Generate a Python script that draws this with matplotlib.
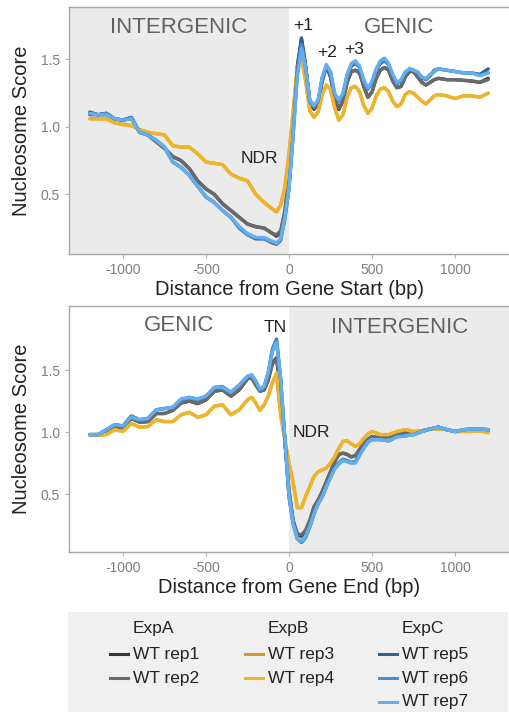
import matplotlib
matplotlib.use("Agg")
import matplotlib.pyplot as plt
from matplotlib.lines import Line2D
from matplotlib.patches import Rectangle

plt.rcParams['font.family'] = ['Liberation Sans', 'DejaVu Sans']
plt.rcParams['axes.unicode_minus'] = False

# ---- data: distance from gene start (top panel) ----
x_start = [-1200, -1150, -1100, -1050, -1000, -950, -900, -850, -800, -750, -700, -650,
           -600, -550, -500, -450, -400, -350, -300, -250, -200, -150, -100,
           -75, -50, -25, 0, 25, 50, 75, 100, 125, 150, 175, 200, 225, 250, 275,
           300, 325, 350, 375, 400, 425, 450, 475, 500, 525, 550, 575, 600, 625,
           650, 675, 700, 725, 750, 775, 800, 825, 850, 875, 900,
           950, 1000, 1050, 1100, 1150, 1200]

start_rep1 = [1.10, 1.09, 1.10, 1.06, 1.05, 1.07, 0.96, 0.94, 0.89, 0.84, 0.78, 0.75,
              0.69, 0.60, 0.54, 0.50, 0.43, 0.38, 0.33, 0.28, 0.26, 0.25, 0.21,
              0.19, 0.22, 0.37, 0.62, 1.00, 1.45, 1.65, 1.45, 1.19, 1.13, 1.17, 1.34, 1.45, 1.37, 1.21,
              1.13, 1.19, 1.33, 1.41, 1.42, 1.40, 1.30, 1.22, 1.26, 1.36, 1.42, 1.44, 1.42, 1.34,
              1.29, 1.30, 1.37, 1.41, 1.41, 1.37, 1.33, 1.31, 1.33, 1.35, 1.36,
              1.35, 1.35, 1.345, 1.34, 1.33, 1.36]
start_rep2 = [1.09, 1.09, 1.09, 1.06, 1.05, 1.06, 0.96, 0.94, 0.89, 0.84, 0.78, 0.75,
              0.69, 0.60, 0.54, 0.50, 0.43, 0.38, 0.33, 0.28, 0.26, 0.25, 0.21,
              0.20, 0.23, 0.38, 0.63, 1.00, 1.44, 1.63, 1.44, 1.19, 1.14, 1.17, 1.34, 1.45, 1.37, 1.21,
              1.14, 1.19, 1.33, 1.41, 1.42, 1.40, 1.30, 1.22, 1.26, 1.36, 1.42, 1.44, 1.42, 1.34,
              1.29, 1.30, 1.37, 1.41, 1.41, 1.37, 1.33, 1.31, 1.33, 1.35, 1.36,
              1.35, 1.35, 1.345, 1.34, 1.33, 1.35]
start_rep3 = [1.06, 1.06, 1.06, 1.03, 1.02, 1.01, 0.98, 0.96, 0.95, 0.94, 0.86, 0.85,
              0.85, 0.80, 0.74, 0.73, 0.72, 0.65, 0.62, 0.60, 0.50, 0.44, 0.39,
              0.37, 0.42, 0.55, 0.80, 1.12, 1.44, 1.51, 1.34, 1.12, 1.07, 1.11, 1.24, 1.31, 1.28, 1.14,
              1.05, 1.09, 1.22, 1.29, 1.30, 1.26, 1.16, 1.10, 1.14, 1.23, 1.28, 1.29, 1.26, 1.19,
              1.15, 1.17, 1.24, 1.26, 1.25, 1.22, 1.19, 1.17, 1.20, 1.23, 1.24,
              1.23, 1.21, 1.23, 1.23, 1.22, 1.25]
start_rep4 = [1.06, 1.06, 1.06, 1.03, 1.015, 1.01, 0.98, 0.96, 0.95, 0.94, 0.86, 0.85,
              0.85, 0.80, 0.74, 0.73, 0.72, 0.65, 0.62, 0.60, 0.50, 0.44, 0.39,
              0.375, 0.42, 0.55, 0.80, 1.12, 1.44, 1.51, 1.34, 1.12, 1.07, 1.11, 1.24, 1.31, 1.28, 1.14,
              1.05, 1.09, 1.22, 1.29, 1.30, 1.26, 1.16, 1.10, 1.14, 1.23, 1.28, 1.29, 1.26, 1.19,
              1.15, 1.17, 1.24, 1.26, 1.25, 1.22, 1.19, 1.17, 1.20, 1.23, 1.24,
              1.23, 1.21, 1.23, 1.23, 1.22, 1.25]
start_rep5 = [1.11, 1.09, 1.10, 1.06, 1.05, 1.07, 0.96, 0.94, 0.90, 0.85, 0.74, 0.70,
              0.64, 0.56, 0.48, 0.44, 0.38, 0.33, 0.25, 0.20, 0.17, 0.17, 0.14,
              0.13, 0.16, 0.32, 0.54, 0.95, 1.41, 1.66, 1.45, 1.19, 1.15, 1.19, 1.36, 1.45, 1.40, 1.24,
              1.19, 1.24, 1.38, 1.45, 1.47, 1.44, 1.34, 1.28, 1.33, 1.42, 1.47, 1.49, 1.46, 1.38,
              1.32, 1.34, 1.40, 1.43, 1.42, 1.40, 1.365, 1.35, 1.38, 1.42, 1.43,
              1.42, 1.41, 1.40, 1.40, 1.39, 1.43]
start_rep6 = [1.10, 1.09, 1.10, 1.06, 1.05, 1.07, 0.96, 0.94, 0.90, 0.85, 0.74, 0.70,
              0.64, 0.56, 0.48, 0.44, 0.38, 0.33, 0.26, 0.20, 0.18, 0.17, 0.15,
              0.135, 0.17, 0.33, 0.55, 0.95, 1.39, 1.61, 1.44, 1.19, 1.15, 1.19, 1.36, 1.46, 1.40, 1.24,
              1.19, 1.24, 1.38, 1.46, 1.48, 1.44, 1.34, 1.28, 1.33, 1.42, 1.48, 1.50, 1.46, 1.38,
              1.32, 1.34, 1.40, 1.43, 1.42, 1.40, 1.365, 1.35, 1.38, 1.41, 1.43,
              1.42, 1.41, 1.40, 1.40, 1.38, 1.40]
start_rep7 = [1.10, 1.09, 1.09, 1.06, 1.05, 1.06, 0.96, 0.94, 0.90, 0.85, 0.74, 0.70,
              0.64, 0.56, 0.48, 0.44, 0.38, 0.33, 0.26, 0.21, 0.18, 0.18, 0.15,
              0.14, 0.17, 0.33, 0.55, 0.94, 1.37, 1.58, 1.44, 1.20, 1.16, 1.20, 1.37, 1.46, 1.41, 1.25,
              1.20, 1.25, 1.39, 1.47, 1.49, 1.45, 1.35, 1.29, 1.34, 1.43, 1.49, 1.51, 1.47, 1.39,
              1.33, 1.35, 1.41, 1.43, 1.42, 1.41, 1.37, 1.36, 1.39, 1.41, 1.43,
              1.42, 1.41, 1.40, 1.40, 1.38, 1.40]

# ---- data: distance from gene end (bottom panel) ----
x_end = [-1200, -1150, -1100, -1050, -1000, -950, -900, -850, -800, -750, -700, -650,
         -600, -550, -500, -450, -400, -350, -300, -250,
         -225, -200, -175, -150, -125, -100, -75, -50, -25, 0, 25, 50, 75, 100, 125,
         150, 175, 200, 225, 250, 275, 300, 325, 350, 375, 400, 425, 450, 475, 500,
         550, 600, 650, 700, 750, 800, 850, 900, 950, 1000, 1050, 1100, 1150, 1200]

end_rep1 = [0.98, 0.98, 1.005, 1.05, 1.03, 1.11, 1.08, 1.085, 1.15, 1.15, 1.175, 1.235,
            1.25, 1.23, 1.26, 1.33, 1.34, 1.29, 1.34, 1.43,
            1.44, 1.38, 1.33, 1.34, 1.42, 1.56, 1.60, 1.34, 0.93, 0.52, 0.28, 0.17, 0.16, 0.20, 0.28,
            0.39, 0.45, 0.52, 0.60, 0.68, 0.76, 0.82, 0.83, 0.82, 0.80, 0.81, 0.86, 0.905, 0.94, 0.965,
            0.95, 0.965, 0.985, 0.995, 0.99, 1.01, 1.025, 1.04, 1.02, 1.005, 1.01, 1.02, 1.02, 1.01]
end_rep2 = [0.98, 0.98, 1.005, 1.05, 1.03, 1.11, 1.08, 1.085, 1.15, 1.15, 1.175, 1.235,
            1.25, 1.23, 1.26, 1.33, 1.34, 1.29, 1.34, 1.43,
            1.44, 1.38, 1.33, 1.34, 1.42, 1.55, 1.59, 1.34, 0.94, 0.53, 0.29, 0.18, 0.17, 0.21, 0.29,
            0.40, 0.45, 0.52, 0.60, 0.68, 0.76, 0.82, 0.83, 0.82, 0.80, 0.81, 0.86, 0.905, 0.94, 0.965,
            0.95, 0.965, 0.985, 0.995, 0.99, 1.01, 1.025, 1.04, 1.02, 1.005, 1.01, 1.02, 1.02, 1.01]
end_rep3 = [0.975, 0.975, 0.98, 1.02, 1.005, 1.07, 1.04, 1.045, 1.10, 1.085, 1.085, 1.14,
            1.16, 1.12, 1.14, 1.21, 1.22, 1.14, 1.18, 1.26,
            1.28, 1.235, 1.175, 1.22, 1.29, 1.40, 1.47, 1.13, 0.94, 0.75, 0.59, 0.39, 0.39, 0.48, 0.56,
            0.64, 0.68, 0.695, 0.71, 0.75, 0.80, 0.87, 0.925, 0.93, 0.905, 0.885, 0.905, 0.95, 0.985, 1.005,
            0.98, 0.98, 1.005, 1.02, 1.005, 1.01, 1.025, 1.025, 1.02, 1.005, 1.005, 1.005, 1.01, 0.995]
end_rep4 = [0.975, 0.975, 0.98, 1.02, 1.005, 1.07, 1.04, 1.045, 1.10, 1.085, 1.085, 1.14,
            1.16, 1.12, 1.14, 1.21, 1.22, 1.14, 1.18, 1.26,
            1.28, 1.235, 1.175, 1.22, 1.29, 1.40, 1.48, 1.13, 0.94, 0.75, 0.59, 0.39, 0.39, 0.48, 0.56,
            0.64, 0.68, 0.695, 0.71, 0.75, 0.80, 0.87, 0.925, 0.93, 0.905, 0.885, 0.905, 0.95, 0.985, 1.005,
            0.98, 0.98, 1.005, 1.02, 1.005, 1.01, 1.025, 1.025, 1.02, 1.005, 1.005, 1.005, 1.01, 0.995]
end_rep5 = [0.98, 0.98, 1.02, 1.06, 1.05, 1.13, 1.10, 1.11, 1.18, 1.19, 1.20, 1.26,
            1.28, 1.26, 1.29, 1.36, 1.365, 1.32, 1.38, 1.45,
            1.46, 1.41, 1.34, 1.36, 1.48, 1.67, 1.75, 1.42, 0.94, 0.48, 0.26, 0.14, 0.11, 0.15, 0.235,
            0.34, 0.42, 0.48, 0.56, 0.64, 0.71, 0.75, 0.78, 0.77, 0.755, 0.76, 0.82, 0.87, 0.92, 0.94,
            0.94, 0.93, 0.965, 0.97, 0.98, 1.005, 1.025, 1.04, 1.02, 1.005, 1.02, 1.025, 1.025, 1.02]
end_rep6 = [0.98, 0.98, 1.02, 1.06, 1.05, 1.13, 1.10, 1.11, 1.18, 1.19, 1.20, 1.26,
            1.28, 1.26, 1.29, 1.36, 1.365, 1.32, 1.38, 1.45,
            1.46, 1.41, 1.34, 1.36, 1.48, 1.66, 1.74, 1.42, 0.94, 0.48, 0.26, 0.14, 0.11, 0.15, 0.235,
            0.34, 0.42, 0.48, 0.56, 0.64, 0.71, 0.75, 0.78, 0.77, 0.755, 0.76, 0.82, 0.87, 0.92, 0.94,
            0.94, 0.93, 0.965, 0.97, 0.98, 1.005, 1.025, 1.04, 1.02, 1.005, 1.02, 1.025, 1.025, 1.02]
end_rep7 = [0.98, 0.98, 1.02, 1.06, 1.05, 1.12, 1.10, 1.11, 1.18, 1.19, 1.20, 1.27,
            1.28, 1.27, 1.29, 1.36, 1.36, 1.32, 1.38, 1.45,
            1.46, 1.41, 1.35, 1.37, 1.48, 1.65, 1.72, 1.43, 0.95, 0.49, 0.26, 0.14, 0.12, 0.16, 0.24,
            0.34, 0.42, 0.48, 0.56, 0.63, 0.70, 0.74, 0.77, 0.76, 0.75, 0.75, 0.81, 0.87, 0.92, 0.94,
            0.94, 0.93, 0.96, 0.97, 0.98, 1.005, 1.025, 1.04, 1.02, 1.005, 1.02, 1.025, 1.025, 1.02]

rep_names = ['WT rep1', 'WT rep2', 'WT rep3', 'WT rep4', 'WT rep5', 'WT rep6', 'WT rep7']
rep_colors = ['#363636', '#6a6a6a', '#d09a26', '#f0b428', '#33628f', '#4a8fd0', '#63aeee']
groups = ['ExpA', 'ExpB', 'ExpC']
group_members = [[0, 1], [2, 3], [4, 5, 6]]

start_series = [start_rep1, start_rep2, start_rep3, start_rep4, start_rep5, start_rep6, start_rep7]
end_series = [end_rep1, end_rep2, end_rep3, end_rep4, end_rep5, end_rep6, end_rep7]

fig = plt.figure(figsize=(5.09, 7.13), dpi=100)
ax1 = fig.add_axes([0.1356, 0.6438, 0.8644, 0.3457])
ax2 = fig.add_axes([0.1356, 0.2254, 0.8644, 0.3458])

XL = (-1325, 1325)


def style(ax):
    ax.set_xlim(*XL)
    for s in ['left', 'bottom', 'top']:
        ax.spines[s].set_color('#a8a8a8')
        ax.spines[s].set_linewidth(1.0)
    ax.spines['right'].set_visible(False)
    ax.set_xticks([-1000, -500, 0, 500, 1000])
    ax.set_yticks([0.5, 1.0, 1.5])
    ax.tick_params(colors='#b0b0b0', labelcolor='#7f7f7f', labelsize=10, length=3, width=0.8)
    ax.set_ylabel('Nucleosome Score', fontsize=14.5, color='#222222', labelpad=7)


# top panel
ax1.axvspan(XL[0], 0, color='#ebebeb', zorder=0, lw=0)
for ys, c in zip(start_series, rep_colors):
    ax1.plot(x_start, ys, color=c, lw=2.4, solid_joinstyle='round', solid_capstyle='round')
ax1.set_ylim(0.058, 1.885)
style(ax1)
ax1.set_xlabel('Distance from Gene Start (bp)', fontsize=14.5, color='#222222', labelpad=2)
ax1.text(-664, 1.736, 'INTERGENIC', fontsize=16, color='#606060', ha='center', va='center')
ax1.text(662, 1.74, 'GENIC', fontsize=16, color='#606060', ha='center', va='center')
ax1.text(84, 1.748, '+1', fontsize=12.5, color='#222222', ha='center', va='center')
ax1.text(229, 1.55, '+2', fontsize=12.5, color='#222222', ha='center', va='center')
ax1.text(393, 1.57, '+3', fontsize=12.5, color='#222222', ha='center', va='center')
ax1.text(-177, 0.768, 'NDR', fontsize=12.5, color='#222222', ha='center', va='center')

# bottom panel
ax2.axvspan(0, XL[1], color='#ebebeb', zorder=0, lw=0)
for ys, c in zip(end_series, rep_colors):
    ax2.plot(x_end, ys, color=c, lw=2.4, solid_joinstyle='round', solid_capstyle='round')
ax2.set_ylim(0.03, 2.02)
style(ax2)
ax2.set_xlabel('Distance from Gene End (bp)', fontsize=14.5, color='#222222', labelpad=2)
ax2.text(-665, 1.86, 'GENIC', fontsize=16, color='#606060', ha='center', va='center')
ax2.text(664, 1.847, 'INTERGENIC', fontsize=16, color='#606060', ha='center', va='center')
ax2.text(-81, 1.847, 'TN', fontsize=12.5, color='#222222', ha='center', va='center')
ax2.text(135, 1.0, 'NDR', fontsize=12.5, color='#222222', ha='center', va='center')

# legend block drawn in figure pixel coordinates
W, H = 509.0, 713.0
fig.patches.append(Rectangle((68.3 / W, 1 - 711.7 / H), (507.7 - 68.3) / W, (711.7 - 612) / H,
                             transform=fig.transFigure, facecolor='#f0f0f0', edgecolor='none', zorder=0))
key_x = [110, 245, 379]
row_y = [654.3, 678.3, 701.5]
for gx, g, members in zip(key_x, groups, group_members):
    fig.text((gx + 23) / W, 1 - 628 / H, g, fontsize=12.5, color='#222222', ha='left', va='center')
    for r, idx in enumerate(members):
        yy = 1 - row_y[r] / H
        fig.lines.append(Line2D([gx / W, (gx + 18) / W], [yy, yy], transform=fig.transFigure,
                                color=rep_colors[idx], lw=2.2))
        fig.text((gx + 23) / W, yy, rep_names[idx], fontsize=12.5, color='#222222',
                 ha='left', va='center')

fig.savefig('out.png', dpi=100)
